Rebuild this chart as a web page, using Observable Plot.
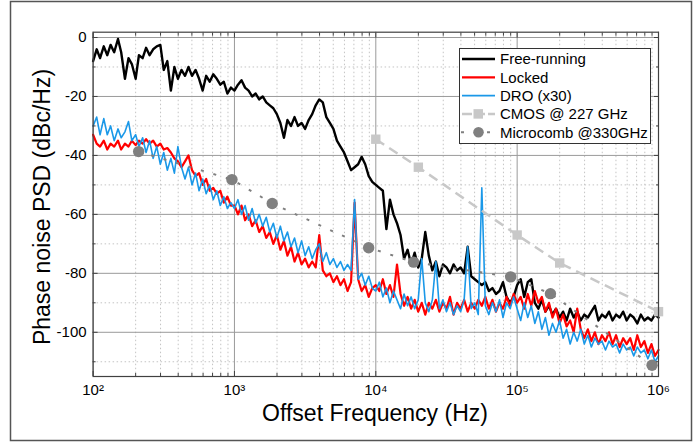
<!DOCTYPE html>
<html><head><meta charset="utf-8">
<script src="https://cdn.jsdelivr.net/npm/d3@7"></script>
<script src="https://cdn.jsdelivr.net/npm/@observablehq/plot@0.6"></script>
<style>html,body{margin:0;padding:0;background:#fff;} #chart{width:697px;height:443px;}</style>
</head><body><div id="chart"></div>
<script>
// ---------- data ----------
const seriesNames = ["Free-running", "Locked", "DRO (x30)", "CMOS @ 227 GHz", "Microcomb @330GHz"];
const gridHz = [
 100,106,112,119,126,133,141,150,158,168,178,188,200,211,224,237,251,266,282,299,316,335,355,376,398,422,447,473,501,531,562,596,631,668,708,750,794,841,891,944,
 1000,1059,1122,1189,1259,1334,1413,1496,1585,1679,1778,1884,1995,2113,2239,2371,2512,2661,2818,2985,3162,3350,3548,3758,3981,4217,4467,4732,5012,5309,5623,5957,6310,6683,7079,7499,7943,8414,8913,9441,
 10000,10593,11220,11885,12589,13335,14125,14962,15849,16788,17783,18836,19953,21135,22387,23714,25119,26607,28184,29854,31623,33497,35481,37584,39811,42170,44668,47315,50119,53088,56234,59566,63096,66834,70795,74989,79433,84140,89125,94406,
 100000,105925,112202,118850,125893,133352,141254,149624,158489,167880,177828,188365,199526,211349,223872,237137,251189,266073,281838,298538,316228,334965,354813,375837,398107,421697,446684,473151,501187,530884,562341,595662,630957,668344,707946,749894,794328,841395,891251,944061,1000000
];
const freeRunning = [
 -8,-4,-7,-3,-6,-2.5,-5,-0.5,-5,-14,-7,-9,-14,-6,-7,-3.5,-6,-4,-3,-2.5,-11,-8,-18,-10,-14,-11,-13,-10,-13,-11,-14,-18,-13,-15,-12.5,-14,-16,-15,-19,-17,
 -18,-16,-14.5,-17,-18,-20,-19,-21,-20,-22,-23,-24,-26,-29,-34,-28,-30,-27,-30,-29,-31,-28,-26,-23,-21,-22,-27,-29,-31,-35,-37,-39,-42,-45,-44,-43,-40.5,-43,-47,-49,
 -50,-51,-52,-65,-55,-60,-63,-67,-75,-72,-77,-73,-78,-75,-66,-74,-79,-76,-81,-77,-78,-80,-77,-79,-78,-80,-71,-81,-82,-83,-84,-83,-86,-85,-87,-86,-83,-88,-90,-88,
 -84,-82,-88,-83,-82,-90,-92,-89,-93,-91,-94,-92,-95,-93,-96,-92,-95,-93,-96,-94,-95,-93,-91,-96,-94,-95,-93,-96,-94,-95,-93,-96,-94,-95,-97,-94,-96,-95,-96,-94,-95
];
const locked = [
 -33,-36,-37,-35,-38,-36,-37,-35,-38,-36,-37,-35,-36.5,-35,-36,-34.5,-36,-35,-37,-36,-38,-37.5,-39,-41,-42,-44,-42,-40,-45,-47,-46,-50,-48,-52,-51,-53,-52,-56,-54,-57,
 -57,-60,-57,-62,-60,-64,-62,-66,-64,-68,-66,-70,-67,-72,-69,-74,-71,-76,-73,-77,-75,-78,-76,-78,-67,-79,-81,-80,-83,-81,-84,-82,-86,-83,-56,-82,-86,-84,-88,-85,
 -84,-86,-82,-87,-84,-88,-77,-87,-91,-88,-92,-89,-93,-90,-94,-90,-92,-89,-93,-90,-92,-88,-94,-90,-92,-89,-93,-90,-92,-89,-91,-88,-92,-89,-93,-90,-92,-88,-91,-87,
 -90,-88,-92,-87,-91,-86,-90,-88,-93,-90,-95,-92,-97,-94,-98,-96,-100,-92,-99,-102,-99,-103,-100,-104,-101,-103,-100,-104,-101,-105,-102,-104,-102,-106,-101,-105,-103,-107,-104,-108,-106
];
const dro = [
 -30,-27,-33,-27.5,-33,-30,-35,-31,-34,-32,-28.5,-35,-33,-37,-34,-39,-35,-41,-37,-43,-39,-45,-41,-46,-37,-44,-48,-44,-50,-46,-52,-48,-53,-50,-55,-52,-57,-54,-58,-56,
 -58,-55,-60,-57,-62,-58,-63,-60,-64,-61,-66,-63,-68,-64,-69,-66,-71,-68,-73,-69,-74,-71,-75,-72,-70,-76,-73,-77,-75,-78,-76,-79,-77,-79,-55,-82,-80,-84,-81,-85,
 -86,-83,-88,-85,-90,-86,-89,-92,-87,-91,-88,-92,-89,-75,-90,-93,-89,-76,-92,-89,-93,-90,-94,-91,-93,-89,-71,-92,-90,-94,-51,-91,-94,-90,-93,-89,-95,-90,-92,-88,
 -92,-96,-90,-95,-91,-97,-93,-99,-95,-101,-97,-100,-96,-102,-99,-104,-100,-103,-99,-104,-101,-105,-102,-104,-103,-106,-103,-105,-104,-107,-104,-106,-105,-108,-105,-107,-106,-109,-106,-110,-108
];
const cmosHz = [10000, 20000, 100000, 200000, 1000000];
const cmosDb = [-34.5, -44, -67, -76.5, -93];
const combHz = [210, 960, 1850, 8900, 18500, 90000, 172000, 900000];
const combDb = [-38.7, -48.2, -56.3, -71.3, -76.2, -81.2, -86.9, -111.2];

const xMajor = [1e2, 1e3, 1e4, 1e5, 1e6];
const xTickLabels = ["10²", "10³", "10⁴", "10⁵", "10⁶"];
const xMinor = [200,300,400,500,600,700,800,900,2000,3000,4000,5000,6000,7000,8000,9000,
  20000,30000,40000,50000,60000,70000,80000,90000,200000,300000,400000,500000,600000,700000,800000,900000];
const yMajor = [0, -20, -40, -60, -80, -100];
const yMinor = [-10, -30, -50, -70, -90, -110];
const xTitle = "Offset Frequency (Hz)";
const yTitle = "Phase noise PSD (dBc/Hz)";

// ---------- styles ----------
const colors = ["#000000", "#ff0000", "#1a98e8", "#c8c8c8", "#808080"];
const widths = [2.4, 2.2, 1.6, 2.5, 2];
const FONT = "'Liberation Sans', Arial, Helvetica, sans-serif";
const AX = "#404040";

const rows = (xs, ys) => xs.map((x, i) => ({x, y: ys[i]}));

const svg = Plot.plot({
  width: 697, height: 443,
  marginLeft: 92.6, marginRight: 39, marginTop: 31.7, marginBottom: 67,
  style: {fontFamily: FONT, fontSize: "15px", background: "#fff", color: "#000"},
  x: {type: "log", domain: [100, 1e6]},
  y: {domain: [-115, 1.8]},
  marks: [
    Plot.gridX({ticks: xMinor, stroke: "#c4c4c4", strokeOpacity: 1, strokeDasharray: "1.5,2.5"}),
    Plot.gridY({ticks: yMinor, stroke: "#c4c4c4", strokeOpacity: 1, strokeDasharray: "1.5,2.5"}),
    Plot.gridX({ticks: xMajor, stroke: "#9a9a9a", strokeOpacity: 1}),
    Plot.gridY({ticks: yMajor, stroke: "#9a9a9a", strokeOpacity: 1}),
    Plot.line(rows(gridHz, freeRunning), {x: "x", y: "y", stroke: colors[0], strokeWidth: widths[0]}),
    Plot.line(rows(gridHz, locked), {x: "x", y: "y", stroke: colors[1], strokeWidth: widths[1]}),
    Plot.line(rows(gridHz, dro), {x: "x", y: "y", stroke: colors[2], strokeWidth: widths[2]}),
    Plot.line(rows(cmosHz, cmosDb), {x: "x", y: "y", stroke: colors[3], strokeWidth: widths[3], strokeDasharray: "10,6", strokeLinecap: "butt"}),
    Plot.dot(rows(cmosHz, cmosDb), {x: "x", y: "y", symbol: "square", r: 5.3, fill: colors[3]}),
    Plot.line(rows(combHz, combDb), {x: "x", y: "y", stroke: colors[4], strokeWidth: widths[4], strokeDasharray: "3,10", strokeLinecap: "butt"}),
    Plot.dot(rows(combHz, combDb), {x: "x", y: "y", r: 5.7, fill: colors[4]}),
    Plot.frame({stroke: AX, strokeWidth: 1.2}),
    // labels
    Plot.axisX({ticks: xMajor, tickSize: 0, tickPadding: 8, label: null, fontSize: 15,
      tickFormat: d => xTickLabels[xMajor.indexOf(d)]}),
    Plot.axisY({ticks: yMajor, tickSize: 0, tickPadding: 6.5, label: null, fontSize: 15,
      tickFormat: d => String(d)}),
    // inward ticks on all four sides
    Plot.axisX({ticks: xMajor, tickSize: -5, tickFormat: () => "", label: null, stroke: AX}),
    Plot.axisX({ticks: xMinor, tickSize: -3, tickFormat: () => "", label: null, stroke: AX}),
    Plot.axisX({anchor: "top", ticks: xMajor, tickSize: -5, tickFormat: () => "", label: null, stroke: AX}),
    Plot.axisX({anchor: "top", ticks: xMinor, tickSize: -3, tickFormat: () => "", label: null, stroke: AX}),
    Plot.axisY({ticks: yMajor, tickSize: -5, tickFormat: () => "", label: null, stroke: AX}),
    Plot.axisY({ticks: yMinor, tickSize: -3, tickFormat: () => "", label: null, stroke: AX}),
    Plot.axisY({anchor: "right", ticks: yMajor, tickSize: -5, tickFormat: () => "", label: null, stroke: AX}),
    Plot.axisY({anchor: "right", ticks: yMinor, tickSize: -3, tickFormat: () => "", label: null, stroke: AX})
  ]
});

const s = d3.select(svg);
// outer border
s.append("rect").attr("x", 10.5).attr("y", 1.5).attr("width", 681).attr("height", 439)
  .attr("fill", "none").attr("stroke", "#555").attr("stroke-width", 1.5);
// axis titles
s.append("text").text(xTitle).attr("x", 375).attr("y", 421).attr("text-anchor", "middle")
  .attr("font-family", FONT).attr("font-size", 23).attr("fill", "#000");
s.append("text").text(yTitle).attr("transform", "translate(50,207) rotate(-90)").attr("text-anchor", "middle")
  .attr("font-family", FONT).attr("font-size", 23).attr("fill", "#000");

// legend
const lg = s.append("g").attr("font-family", FONT).attr("font-size", 15).attr("text-anchor", "start");
lg.append("rect").attr("x", 459.5).attr("y", 48.5).attr("width", 191).attr("height", 95)
  .attr("fill", "#fff").attr("stroke", "#333").attr("stroke-width", 1);
const rowY = [59, 77.3, 95.6, 113.9, 132.2];
seriesNames.forEach((name, i) => {
  const cy = rowY[i];
  if (i < 3) {
    lg.append("line").attr("x1", 462).attr("x2", 495).attr("y1", cy).attr("y2", cy)
      .attr("stroke", colors[i]).attr("stroke-width", widths[i]);
  } else if (i === 3) {
    lg.append("line").attr("x1", 462).attr("x2", 495).attr("y1", cy).attr("y2", cy)
      .attr("stroke", colors[i]).attr("stroke-width", widths[i]).attr("stroke-dasharray", "10,3");
    lg.append("rect").attr("x", 473.5).attr("y", cy - 4.75).attr("width", 9.5).attr("height", 9.5).attr("fill", colors[i]);
  } else {
    lg.append("line").attr("x1", 461).attr("x2", 495).attr("y1", cy).attr("y2", cy)
      .attr("stroke", colors[i]).attr("stroke-width", widths[i]).attr("stroke-dasharray", "3,10");
    lg.append("circle").attr("cx", 478.5).attr("cy", cy).attr("r", 5.3).attr("fill", colors[i]);
  }
  lg.append("text").text(name).attr("x", 500).attr("y", cy + 5.4).attr("fill", "#000").attr("text-anchor", "start");
});

document.getElementById("chart").appendChild(svg);
</script>
</body></html>
